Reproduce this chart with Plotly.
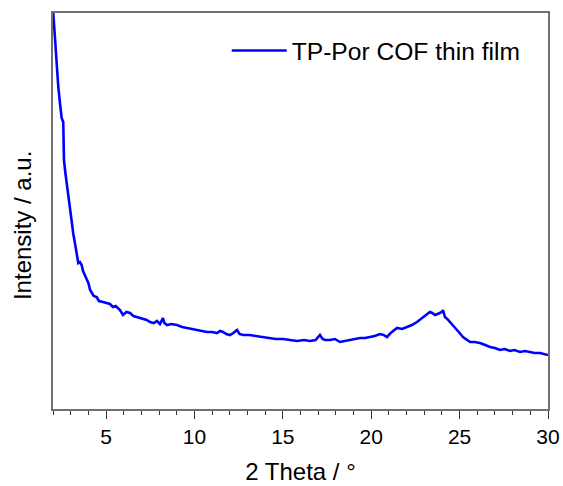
import plotly.graph_objects as go

# 2 Theta (deg) and intensity (a.u.)
two_theta = [
    2.00, 2.10, 2.21, 2.30, 2.40, 2.49, 2.58, 2.62, 2.70, 2.77, 2.85, 2.92, 3.00, 3.06,
    3.15, 3.24, 3.33, 3.43, 3.52, 3.62, 3.70, 3.81, 3.90, 4.00, 4.10, 4.19, 4.30, 4.47,
    4.60, 4.83, 5.05, 5.22, 5.39, 5.55, 5.79, 5.96, 6.15, 6.36, 6.55, 6.75, 6.90, 7.09,
    7.30, 7.49, 7.70, 7.88, 8.05, 8.22, 8.30, 8.45, 8.70, 9.01, 9.30, 9.58, 9.85, 10.15,
    10.45, 10.71, 11.00, 11.28, 11.45, 11.62, 11.80, 12.01, 12.20, 12.41, 12.55, 12.75,
    13.10, 13.54, 13.90, 14.27, 14.60, 15.01, 15.40, 15.80, 16.20, 16.54, 16.85, 17.10,
    17.25, 17.39, 17.67, 17.95, 18.23, 18.50, 18.80, 19.10, 19.37, 19.65, 19.93, 20.20,
    20.50, 20.70, 20.89, 21.10, 21.46, 21.75, 22.02, 22.30, 22.59, 22.75, 22.93, 23.10,
    23.32, 23.45, 23.61, 23.75, 23.89, 24.00, 24.06, 24.12, 24.17, 24.30, 24.46, 24.65,
    24.85, 25.00, 25.19, 25.40, 25.59, 25.85, 26.15, 26.45, 26.72, 27.00, 27.28, 27.55,
    27.85, 28.10, 28.42, 28.70, 28.98, 29.25, 29.55, 29.75, 30.00,
]
intensity = [
    400, 372, 349, 322, 305, 291, 287, 249, 236, 226, 214, 206, 196, 186,
    175, 166, 156, 146, 147, 144, 138, 134, 130, 126, 119, 116, 113, 112,
    108, 107, 106, 105, 102, 103, 99, 94, 97, 96, 93, 92, 91, 90,
    89, 87, 86, 88, 85, 91, 86, 84, 85, 84, 82, 81, 80, 79,
    78, 77, 77, 76, 78, 77, 75, 74, 76, 79, 75, 74,
    74, 73, 72, 71, 70, 70, 69, 68, 69, 68, 69, 74,
    70, 69, 69, 70, 67, 68, 69, 70, 71, 71, 72, 73,
    75, 74, 72, 76, 81, 80, 82, 84, 87, 89, 92, 94,
    97, 96, 94, 95, 96, 97, 99, 95, 92, 90, 87, 83,
    79, 76, 72, 69, 67, 67, 66, 64, 62, 61, 59, 60,
    58, 59, 57, 58, 57, 56, 56, 55, 54,
]

series_name = "TP-Por COF thin film"
x_tick_vals = [5, 10, 15, 20, 25, 30]
x_title = "2 Theta / °"
y_title = "Intensity / a.u."

fig = go.Figure()
fig.add_trace(go.Scatter(
    x=two_theta, y=intensity, mode="lines", name=series_name,
    line=dict(color="#0000FF", width=2.6),
))

axis_col = "#707070"
fig.update_layout(
    width=563, height=486,
    margin=dict(l=53, r=15, t=13, b=77, autoexpand=False),
    paper_bgcolor="white", plot_bgcolor="white",
    font=dict(family="Liberation Sans, Arial, sans-serif", size=21, color="#000000"),
    showlegend=True,
    legend=dict(x=0.955, y=0.962, xanchor="right", yanchor="top", itemwidth=55,
                bgcolor="rgba(0,0,0,0)", font=dict(size=24.6)),
    xaxis=dict(
        range=[2, 30], tickvals=x_tick_vals, ticks="outside", ticklen=8, tickwidth=1.2,
        tickcolor="#333333", automargin=False,
        minor=dict(dtick=1, ticks="outside", ticklen=4, tickwidth=1.2, tickcolor="#333333"),
        showline=True, linecolor=axis_col, linewidth=1.6, mirror=True,
        showgrid=False, zeroline=False,
        tickfont=dict(size=21),
        title=dict(text=x_title, font=dict(size=24), standoff=16),
    ),
    yaxis=dict(
        range=[0, 396], showticklabels=False, ticks="", automargin=False,
        showline=True, linecolor=axis_col, linewidth=1.6, mirror=True,
        showgrid=False, zeroline=False,
    ),
    annotations=[dict(
        text=y_title, textangle=-90, xref="paper", yref="paper",
        x=-31 / 495, y=0.462, xanchor="center", yanchor="middle",
        showarrow=False, font=dict(size=24),
    )],
)

fig.write_html("out.html")
